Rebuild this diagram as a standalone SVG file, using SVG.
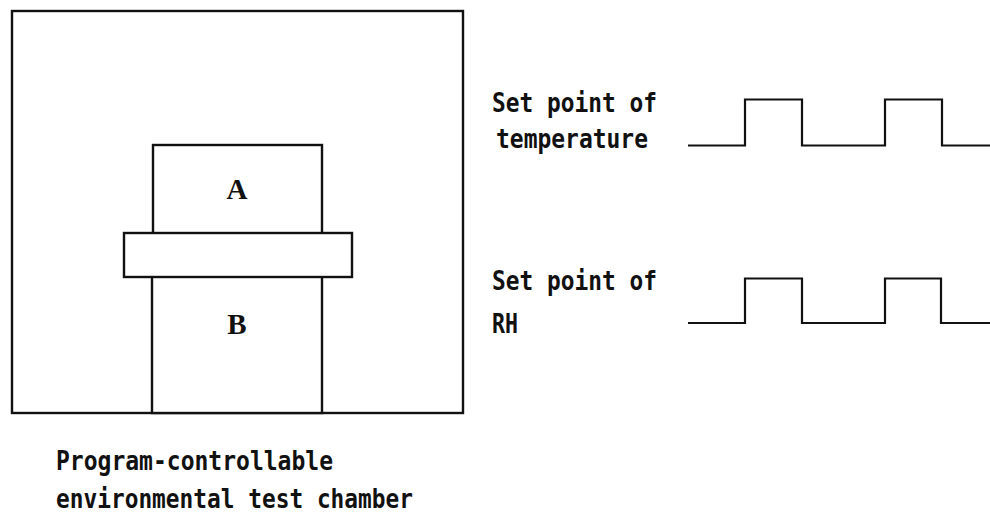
<svg xmlns="http://www.w3.org/2000/svg" width="990" height="517" viewBox="0 0 990 517">
<style>
.ln{fill:none;stroke:#111;stroke-width:2.2;stroke-linejoin:miter}
.bx{fill:#fff;stroke:#111;stroke-width:2.4}
.lbl{font-family:"DejaVu Sans Mono","Liberation Mono",monospace;font-size:26px;font-weight:bold;fill:#111}
.ab{font-family:"Liberation Serif",serif;font-size:29px;font-weight:bold;fill:#111;text-anchor:middle}
</style>
<rect width="990" height="517" fill="#fff"/>
<g id="chamber">
<rect class="bx" x="12" y="11" width="451" height="402"/>
</g>
<g id="specimen-A">
<rect class="bx" x="153" y="145" width="169" height="100"/>
<text class="ab" x="237" y="199">A</text>
</g>
<g id="specimen-B">
<rect class="bx" x="152" y="265" width="170" height="148"/>
<text class="ab" x="237" y="334">B</text>
</g>
<g id="band">
<rect class="bx" x="124" y="233" width="228" height="44"/>
</g>
<g id="labels">
<text class="lbl" x="492" y="112" textLength="165" lengthAdjust="spacingAndGlyphs">Set point of</text>
<text class="lbl" x="496" y="148" textLength="152" lengthAdjust="spacingAndGlyphs">temperature</text>
<text class="lbl" x="492" y="290" textLength="165" lengthAdjust="spacingAndGlyphs">Set point of</text>
<text class="lbl" x="492" y="333" textLength="26" lengthAdjust="spacingAndGlyphs">RH</text>
<text class="lbl" x="56" y="470" textLength="277" lengthAdjust="spacingAndGlyphs">Program-controllable</text>
<text class="lbl" x="56" y="508" textLength="357" lengthAdjust="spacingAndGlyphs">environmental test chamber</text>
</g>
<g id="connectors">
<polyline class="ln" points="688,145.5 745,145.5 745,99.5 802,99.5 802,145.5 885,145.5 885,99.5 942,99.5 942,145.5 990,145.5"/>
<polyline class="ln" points="688,323 745,323 745,278.5 802,278.5 802,323 885,323 885,278.5 941,278.5 941,323 990,323"/>
</g>
</svg>
